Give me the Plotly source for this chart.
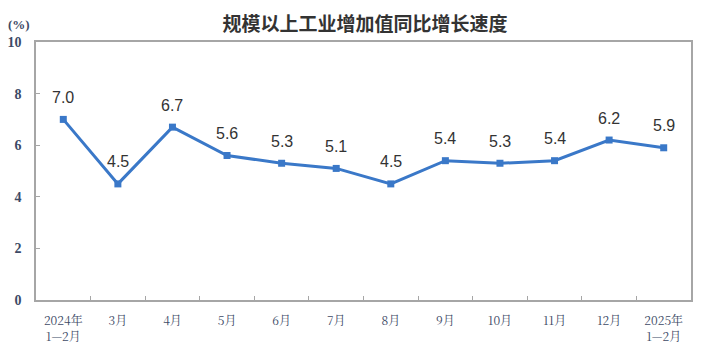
import plotly.graph_objects as go

categories = ["2024年<br>1—2月", "3月", "4月", "5月", "6月", "7月", "8月", "9月", "10月", "11月", "12月", "2025年<br>1—2月"]
values = [7.0, 4.5, 6.7, 5.6, 5.3, 5.1, 4.5, 5.4, 5.3, 5.4, 6.2, 5.9]
y_ticks = [0, 2, 4, 6, 8, 10]
title = "规模以上工业增加值同比增长速度"

line_color = "#3a78c8"
axis_color = "#a6a6a6"
tick_font_color = "#3d4a66"

fig = go.Figure()
fig.add_trace(go.Scatter(
    x=categories, y=values, mode="lines+markers",
    line=dict(color=line_color, width=3),
    marker=dict(symbol="square", size=7, color=line_color),
    hoverinfo="skip", showlegend=False,
))

for c, v in zip(categories, values):
    fig.add_annotation(x=c, y=v, text=f"{v:.1f}", showarrow=False, yshift=22,
                       font=dict(family="Liberation Sans, Arial", size=16, color="#333333"))

fig.add_annotation(xref="paper", yref="paper", x=0, y=1.0, xshift=-4, yshift=18,
                   xanchor="right", yanchor="middle",
                   text="(%)", showarrow=False,
                   font=dict(family="Liberation Serif, Times New Roman", size=13, color=tick_font_color, weight="bold"))

fig.update_layout(
    width=710, height=355,
    margin=dict(l=28, r=27, t=34, b=63, autoexpand=False),
    paper_bgcolor="white", plot_bgcolor="white",
    title=dict(text="<b>" + title + "</b>", x=0.503, xanchor="center", y=0.955, yanchor="middle",
               font=dict(family="Noto Sans CJK SC", size=19, color="#333333")),
)
fig.update_xaxes(
    type="category", range=[-0.5, 11.5], automargin=False,
    showline=True, linecolor=axis_color, linewidth=1.5, mirror=True,
    showgrid=False, zeroline=False,
    ticks="inside", tickson="boundaries", ticklen=4, tickcolor=axis_color,
    tickfont=dict(family="Noto Serif CJK SC, Noto Sans CJK SC, Liberation Serif", size=12, color=tick_font_color),
    ticklabelstandoff=9,
)
fig.update_yaxes(
    range=[0, 10], tickvals=y_ticks, automargin=False,
    showline=True, linecolor=axis_color, linewidth=1.5, mirror=True,
    showgrid=False, zeroline=False,
    ticks="inside", ticklen=4, tickcolor=axis_color,
    tickfont=dict(family="Liberation Serif, Times New Roman", size=14, color=tick_font_color, weight="bold"),
    ticklabelstandoff=10,
)

fig.write_html("out.html")
